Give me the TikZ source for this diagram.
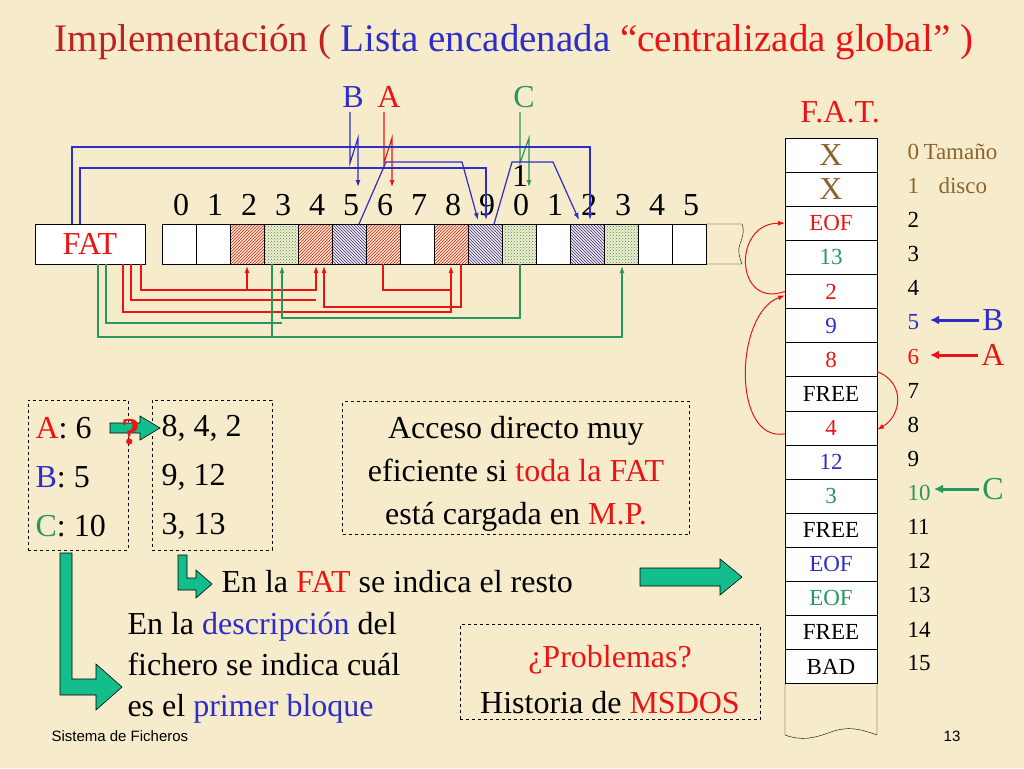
\documentclass[tikz,border=0pt]{standalone}
\usepackage{fontspec}
\setmainfont{Liberation Serif}
\newfontfamily\footfont{Liberation Sans}
\usetikzlibrary{arrows.meta,patterns}
\definecolor{bg}{RGB}{246,236,204}
\definecolor{rd}{RGB}{235,20,20}
\definecolor{tr}{RGB}{190,35,30}
\definecolor{bl}{RGB}{45,45,200}
\definecolor{gr}{RGB}{40,150,95}
\definecolor{br}{RGB}{140,100,45}
\definecolor{ga}{RGB}{20,190,140}
\tikzset{
 blk/.style={draw,minimum width=34pt,minimum height=40pt,inner sep=0,outer sep=0,fill=white},
 pa/.style={blk,pattern=north east lines,pattern color=rd},
 pb/.style={blk,pattern=north west lines,pattern color=bl},
 pc/.style={blk,pattern=crosshatch dots,pattern color=gr},
 fc/.style={draw,fill=white,minimum width=92pt,minimum height=34.1pt,inner sep=0,outer sep=0,font=\fontsize{23}{23}\selectfont},
 rl/.style={rd,line width=1.2pt},
 gl/.style={gr,line width=1.2pt},
 bll/.style={bl,line width=1.2pt},
 tip/.style={-{Latex[length=7pt,width=5pt]}},
 dbox/.style={draw,dashed,inner sep=0},
 big/.style={font=\fontsize{32}{38}\selectfont},
 garr/.style={fill=ga,draw=black,line width=0.6pt},
 idx/.style={font=\fontsize{23}{23}\selectfont,anchor=west}
}
\begin{document}
\begin{tikzpicture}[x=1pt,y=-1pt]
\fill[bg] (0,0) rectangle (1024,768);
\useasboundingbox (0,0) rectangle (1024,768);
% title
\node[font=\fontsize{39}{39}\selectfont] (title) at (514,42) {\textcolor{tr}{Implementación (} \textcolor{bl}{Lista encadenada} \textcolor{rd}{“centralizada global” )}};
% FAT box
\node[draw,fill=white,minimum width=110pt,minimum height=40pt,inner sep=0,font=\fontsize{32}{32}\selectfont,text=rd] (fat) at (90,244) {FAT};
% blocks
\foreach \i/\s in {0/blk,1/blk,2/pa,3/pc,4/pa,5/pb,6/pa,7/blk,8/pa,9/pb,10/pc,11/blk,12/pb,13/pc,14/blk,15/blk}{
 \node[\s] (b\i) at (179+34*\i,244) {};
}
\draw (706,224) -- (742,224) to[out=-70,in=70] (740,244) to[out=-110,in=110] (742,264) -- (706,264);
\foreach \i/\d in {0/0,1/1,2/2,3/3,4/4,5/5,6/6,7/7,8/8,9/9,10/0,11/1,12/2,13/3,14/4,15/5}{
 \node[big,inner sep=0] (d\i) at (181+34*\i,205) {\d};
}
\node[big,inner sep=0] (d10b) at (520,176) {1};
% labels
\node[big,text=bl] (lB) at (353,97) {B};
\node[big,text=rd] (lA) at (389,97) {A};
\node[big,text=gr] (lC) at (524,97) {C};
\draw[bll,tip] (350,112) -- (350,163) -- (358,138) -- (358,187);
\draw[rl,tip] (384,112) -- (384,163) -- (392,138) -- (392,187);
\draw[gl,tip] (520,112) -- (520,163) -- (529,138) -- (529,187);
% blue links
\draw[bll,tip] (72,224) |- (590,147) -- (590,220);
\draw[bll,tip] (80,224) |- (486,168) -- (486,220);
\draw[bll,tip] (359,224) -- (386,162) -- (462,162) -- (478,220);
\draw[bll,tip] (494,224) -- (512,162) -- (553,162) -- (579,220);
% red links
\draw[rl,tip] (141,264) |- (316,290) -- (316,266);
\draw[rl,tip] (247,290) -- (247,266);
\draw[rl] (131,264) |- (316,300);
\draw[rl,tip] (383,264) |- (451,290) -- (451,266);
\draw[rl] (123,264) |- (451,312) -- (451,290);
\draw[rl,tip] (461,264) |- (324,307) -- (324,266);
% green links
\draw[gl] (106,264) |- (282,323);
\draw[gl,tip] (520,264) |- (282,318) -- (282,266);
\draw[gl,tip] (98,264) |- (622,337) -- (622,266);
\draw[gl] (272,264) -- (272,337);
% FAT table
\node[font=\fontsize{32}{32}\selectfont,text=rd] (ftitle) at (840,112) {F.A.T.};
\foreach \i/\t/\c in {0/X/br,1/X/br,2/EOF/rd,3/13/gr,4/2/rd,5/9/bl,6/8/rd,7/FREE/black,8/4/rd,9/12/bl,10/3/gr,11/FREE/black,12/EOF/bl,13/EOF/gr,14/FREE/black,15/BAD/black}{
 \node[fc,text=\c] (f\i) at (831,155+34.1*\i) {\ifnum\i<2 \fontsize{32}{32}\selectfont\fi\t};
}
\draw (785,683) -- (785,735) to[out=-20,in=200] (831,732) to[out=20,in=160] (877,735) -- (877,683);
\foreach \i/\c in {0/br,1/br,2/black,3/black,4/black,5/bl,6/rd,7/black,8/black,9/black,10/gr,11/black,12/black,13/black,14/black,15/black}{
 \node[idx,text=\c] (n\i) at (904,152+34.1*\i) {\i};
}
\node[idx,text=br] (tam) at (920,152) {Tamaño};
\node[idx,text=br] (dis) at (935,186) {disco};
\node[big,text=bl] (rB) at (993,320) {B};
\node[big,text=rd] (rA) at (993,355) {A};
\node[big,text=gr] (rC) at (993,489) {C};
\draw[bl,line width=3pt,-{Latex[length=9pt,width=9pt]}] (rB.west) -- (930,320);
\draw[rd,line width=3pt,-{Latex[length=9pt,width=9pt]}] (rA.west) -- (930,355);
\draw[gr,line width=3pt,-{Latex[length=9pt,width=9pt]}] (rC.west) -- (934,489);
\draw[rd,line width=1pt,tip] ([yshift=0pt]f4.west) to[out=200,in=180,looseness=2] (f2.west);
\draw[rd,line width=1pt,tip] ([yshift=-6pt]f8.west) to[out=190,in=200,looseness=1] ([yshift=-4pt]f4.west);
\draw[rd,line width=1pt,tip] ([yshift=-12pt]f6.east) to[out=-20,in=30,looseness=1.3] ([yshift=-2pt]f8.east);
% lower left
\node[dbox,minimum width=100pt,minimum height=150pt] (box1) at (78,475) {};
\node[big,anchor=west] (ta) at (32,428) {\textcolor{rd}{A}: 6};
\node[big,anchor=west] (tb) at (32,477) {\textcolor{bl}{B}: 5};
\node[big,anchor=west] (tc) at (32,526) {\textcolor{gr}{C}: 10};
\node[dbox,minimum width=120pt,minimum height=150pt] (box2) at (212,475) {};
\node[big,anchor=west] (sa) at (158,428) {8, 4, 2};
\node[big,anchor=west] (sb) at (158,477) {9, 12};
\node[big,anchor=west] (sc) at (158,526) {3, 13};
\draw[garr] (110,423) -- (140,423) -- (140,416) -- (160,428) -- (140,440) -- (140,433) -- (110,433) -- cycle;
\node[text=rd,font=\bfseries\fontsize{38}{38}\selectfont] (q) at (131,432) {?};
\draw[garr] (60,553) -- (72,553) -- (72,679) -- (96,679) -- (96,664) -- (122,687) -- (96,710) -- (96,695) -- (60,695) -- cycle;
\draw[garr] (178,555) -- (187,555) -- (187,578) -- (196,578) -- (196,570) -- (212,584) -- (196,598) -- (196,590) -- (178,590) -- cycle;
\draw[garr] (640,568) -- (720,568) -- (720,559) -- (742,577) -- (720,595) -- (720,586) -- (640,586) -- cycle;
\node[big,anchor=west] (resto) at (218,582) {En la \textcolor{rd}{FAT} se indica el resto};
\node[anchor=north west,align=left,font=\fontsize{32}{41}\selectfont] (desc) at (124,609) {En la \textcolor{bl}{descripción} del\\fichero se indica cuál\\es el \textcolor{bl}{primer bloque}};
\node[dbox,minimum width=347pt,minimum height=133pt] (box3) at (516,468) {};
\node[align=center,font=\fontsize{32}{43}\selectfont] (acc) at (516,474) {Acceso directo muy\\eficiente si \textcolor{rd}{toda la FAT}\\está cargada en \textcolor{rd}{M.P.}};
\node[dbox,minimum width=300pt,minimum height=95pt] (box4) at (610,672) {};
\node[align=center,font=\fontsize{32}{46}\selectfont] (prob) at (610,680) {\textcolor{rd}{¿Problemas?}\\Historia de \textcolor{rd}{MSDOS}};
% footer
\node[font=\footfont\fontsize{15}{15}\selectfont,anchor=west] (foot) at (48,736) {Sistema de Ficheros};
\node[font=\footfont\fontsize{15}{15}\selectfont] (pg) at (952,736) {13};
\end{tikzpicture}
\end{document}
